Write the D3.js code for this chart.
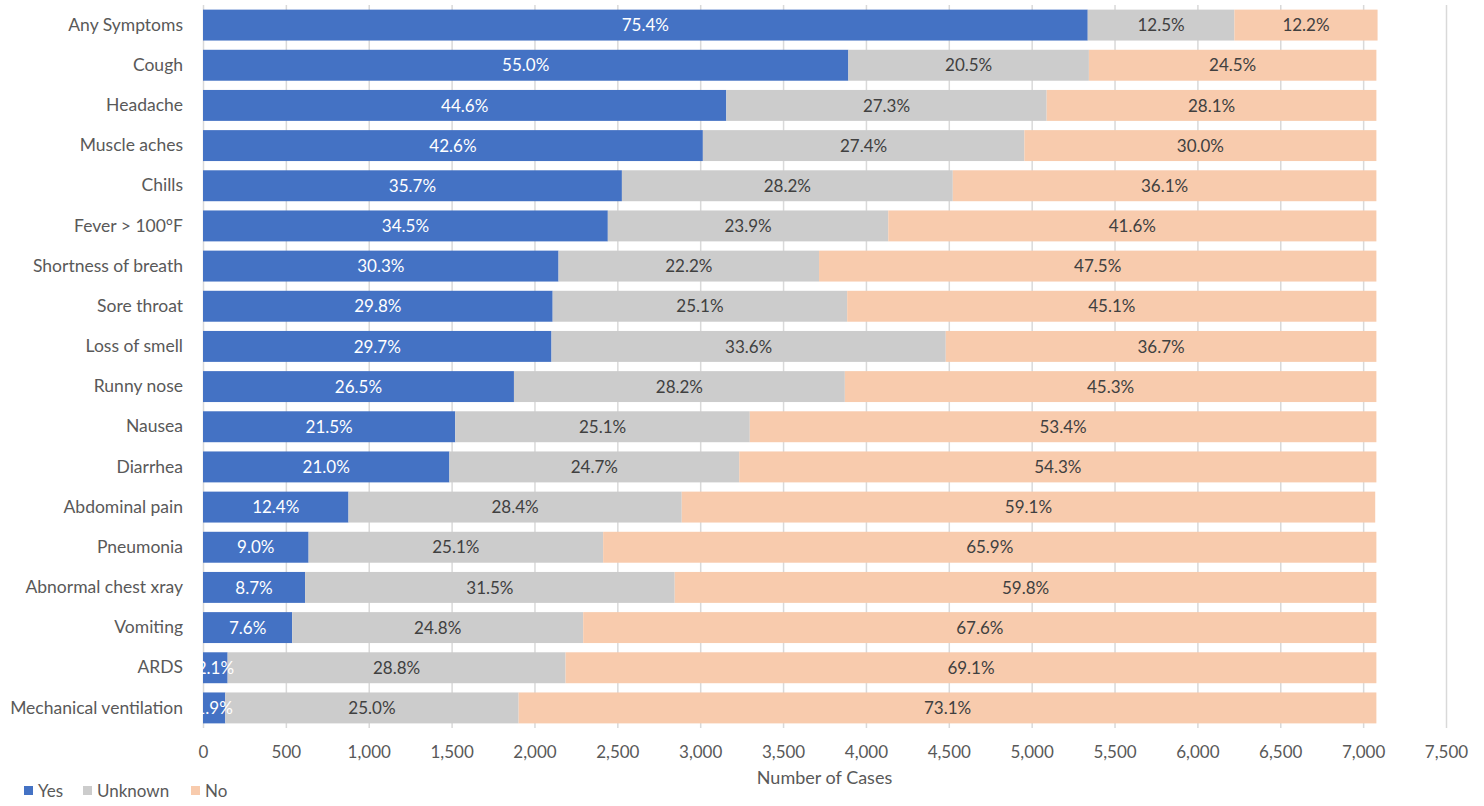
<!DOCTYPE html>
<html>
<head>
<meta charset="utf-8">
<script src="https://cdn.jsdelivr.net/npm/d3@7"></script>
<style>
  body { margin: 0; background: #fff; }
  svg text { font-family: Lato, "Open Sans", sans-serif; }
  .grid line { stroke: #d9d9d9; stroke-width: 1.5; }
  .grid path { display: none; }
  .axis path, .axis line { display: none; }
  .axis text { fill: #595959; font-size: 17px; }
  .axis.cat text { font-size: 17.5px; }
</style>
</head>
<body>
<div id="chart"></div>
<script>
var symptoms = ["Any Symptoms", "Cough", "Headache", "Muscle aches", "Chills", "Fever > 100°F",
  "Shortness of breath", "Sore throat", "Loss of smell", "Runny nose", "Nausea", "Diarrhea",
  "Abdominal pain", "Pneumonia", "Abnormal chest xray", "Vomiting", "ARDS", "Mechanical ventilation"];
var yesPct     = [75.4, 55.0, 44.6, 42.6, 35.7, 34.5, 30.3, 29.8, 29.7, 26.5, 21.5, 21.0, 12.4, 9.0, 8.7, 7.6, 2.1, 1.9];
var unknownPct = [12.5, 20.5, 27.3, 27.4, 28.2, 23.9, 22.2, 25.1, 33.6, 28.2, 25.1, 24.7, 28.4, 25.1, 31.5, 24.8, 28.8, 25.0];
var noPct      = [12.2, 24.5, 28.1, 30.0, 36.1, 41.6, 47.5, 45.1, 36.7, 45.3, 53.4, 54.3, 59.1, 65.9, 59.8, 67.6, 69.1, 73.1];
var totalCases = 7080;
var xTicks = [0, 500, 1000, 1500, 2000, 2500, 3000, 3500, 4000, 4500, 5000, 5500, 6000, 6500, 7000, 7500];

var series = ["Yes", "Unknown", "No"];
var colors = {Yes: "#4472c4", Unknown: "#cccccc", No: "#f8cbad"};
var labelColors = {Yes: "#ffffff", Unknown: "#404040", No: "#404040"};

var margin = {top: 5, right: 38, bottom: 78, left: 203};
var W = 1484, H = 806;
var width = W - margin.left - margin.right,
    height = H - margin.top - margin.bottom;

var rows = symptoms.map(function(s, i) {
  return {
    name: s,
    Yes: yesPct[i] / 100 * totalCases,
    Unknown: unknownPct[i] / 100 * totalCases,
    No: noPct[i] / 100 * totalCases,
    pct: {Yes: yesPct[i], Unknown: unknownPct[i], No: noPct[i]}
  };
});

var stacked = d3.stack().keys(series)(rows);

var x = d3.scaleLinear().domain([0, 7500]).range([0, width]);
var y = d3.scaleBand().domain(symptoms).range([0, height]).paddingInner(0.23).paddingOuter(0.115);

var svg = d3.select("#chart").append("svg")
    .attr("width", W)
    .attr("height", H)
  .append("g")
    .attr("transform", "translate(" + margin.left + "," + margin.top + ")");

// vertical gridlines
svg.append("g")
    .attr("class", "grid")
    .call(d3.axisBottom(x).tickValues(xTicks).tickSize(height).tickFormat(""));

var layer = svg.selectAll(".layer")
    .data(stacked)
  .enter().append("g")
    .attr("class", "layer")
    .attr("fill", function(d) { return colors[d.key]; });

layer.selectAll("rect")
    .data(function(d) { return d; })
  .enter().append("rect")
    .attr("x", function(d) { return x(d[0]); })
    .attr("y", function(d) { return y(d.data.name); })
    .attr("width", function(d) { return x(d[1]) - x(d[0]); })
    .attr("height", y.bandwidth());

// percentage labels, centred in each segment
stacked.forEach(function(s) {
  svg.append("g").selectAll("text")
      .data(s)
    .enter().append("text")
      .attr("x", function(d) { return (x(d[0]) + x(d[1])) / 2; })
      .attr("y", function(d) { return y(d.data.name) + y.bandwidth() / 2; })
      .attr("dy", "0.36em")
      .attr("text-anchor", "middle")
      .attr("fill", labelColors[s.key])
      .style("font-size", "17px")
      .text(function(d) { return d.data.pct[s.key].toFixed(1) + "%"; });
});

// category axis
svg.append("g")
    .attr("class", "axis cat")
    .call(d3.axisLeft(y).tickSize(0).tickPadding(20));

// value axis
svg.append("g")
    .attr("class", "axis")
    .attr("transform", "translate(0," + height + ")")
    .call(d3.axisBottom(x).tickValues(xTicks).tickSize(0).tickPadding(18).tickFormat(d3.format(",")));

svg.append("text")
    .attr("x", width / 2)
    .attr("y", height + 56)
    .attr("text-anchor", "middle")
    .attr("fill", "#595959")
    .style("font-size", "18px")
    .text("Number of Cases");

// legend
var legend = svg.append("g")
    .attr("transform", "translate(" + (-margin.left) + "," + (height + 58) + ")");
var legendX = [24, 83, 191];
series.forEach(function(k, i) {
  legend.append("rect")
      .attr("x", legendX[i]).attr("y", 0)
      .attr("width", 9).attr("height", 9)
      .attr("fill", colors[k]);
  legend.append("text")
      .attr("x", legendX[i] + 14).attr("y", 4.5)
      .attr("dy", "0.36em")
      .attr("fill", "#595959")
      .style("font-size", "17px")
      .text(k);
});
</script>
</body>
</html>
